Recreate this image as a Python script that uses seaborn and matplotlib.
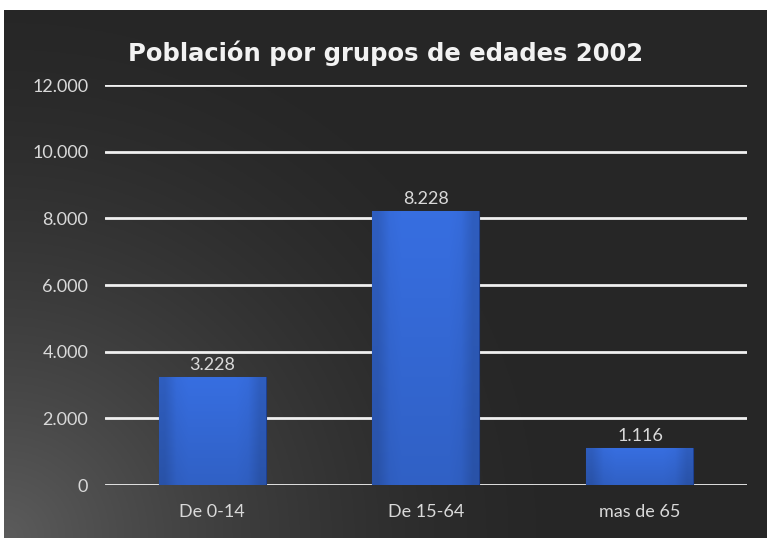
import numpy as np
import pandas as pd
import seaborn as sns
import matplotlib.pyplot as plt

# Data
grupos = ["De 0-14", "De 15-64", "mas de 65"]
poblacion = [3228, 8228, 1116]
y_ticks = [0, 2000, 4000, 6000, 8000, 10000, 12000]
titulo = "Población por grupos de edades 2002"


def fmt(v):
    return f"{v:,.0f}".replace(",", ".")


sns.set_style("white")
plt.rcParams["font.family"] = ["Lato", "DejaVu Sans"]

W, H = 767, 541
fig = plt.figure(figsize=(W / 100, H / 100), dpi=100)
fig.patch.set_facecolor("white")

# Dark background panel with a soft light glow from the bottom-left
bg = fig.add_axes([4 / W, 3 / H, 763 / W, 528 / H])
gy, gx = np.mgrid[0:1:300j, 0:1:400j]
d = np.sqrt((gx * 1.4) ** 2 + ((1 - gy) * 1.0) ** 2)
glow = np.clip(1 - d / 1.05, 0, 1) ** 1.6
lum = 0.15 + 0.21 * glow
bg.imshow(np.dstack([lum, lum, lum]), aspect="auto", extent=(0, 1, 0, 1), origin="upper")
bg.set_axis_off()

ax = fig.add_axes([105 / W, 56 / H, 642 / W, 400 / H])
ax.patch.set_visible(False)

df = pd.DataFrame({"grupo": grupos, "poblacion": poblacion})
sns.barplot(data=df, x="grupo", y="poblacion", color="#3468d4", saturation=1,
            width=0.5, edgecolor="#1d3f8f", linewidth=0.8, ax=ax, zorder=3)

# Subtle bevel-like shading on each bar
shade = np.array([[0.85, 0.97, 1.0, 1.0, 1.0, 1.0, 1.0, 0.97, 0.85]])
base = np.array([0x34, 0x68, 0xd4]) / 255
for p in ax.patches:
    x0, y0 = p.get_x(), p.get_y()
    w, h = p.get_width(), p.get_height()
    rows = np.linspace(1.06, 0.93, 40)[:, None]
    img = np.clip(base[None, None, :] * (rows * shade)[:, :, None], 0, 1)
    im = ax.imshow(img, extent=(x0, x0 + w, y0, y0 + h), aspect="auto", zorder=4,
                   interpolation="bilinear")
    im.set_clip_path(p)

ax.set_xlim(-0.5, 2.5)
ax.set_ylim(0, 12000)
ax.set_yticks(y_ticks)
ax.set_yticklabels([fmt(v) for v in y_ticks])
ax.set_xlabel("")
ax.set_ylabel("")
for s in ax.spines.values():
    s.set_visible(False)
ax.yaxis.grid(True, color="#f0f0f0", linewidth=2, zorder=1)
ax.set_axisbelow(True)
ax.tick_params(axis="y", length=0, pad=12, labelsize=13, labelcolor="#d9d9d9")
ax.tick_params(axis="x", length=0, pad=14, labelsize=13, labelcolor="#d9d9d9")

ax.bar_label(ax.containers[0], labels=[fmt(v) for v in poblacion], padding=3,
             color="#d9d9d9", fontsize=13, zorder=5)

fig.text(0.503, 1 - 53 / H, titulo, ha="center", va="center", color="#f2f2f2",
         fontsize=17.5, fontweight="bold", family=["DejaVu Sans"])

fig.savefig("out.png", dpi=100, facecolor=fig.get_facecolor())
